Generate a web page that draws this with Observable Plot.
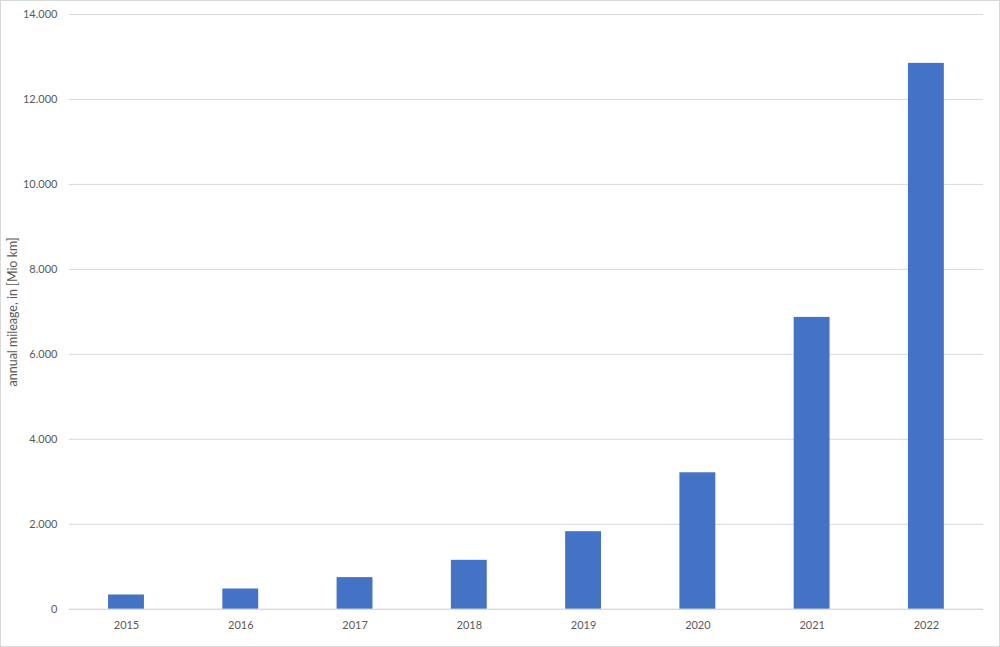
<!DOCTYPE html>
<html>
<head>
<meta charset="utf-8">
<script src="https://cdn.jsdelivr.net/npm/d3@7"></script>
<script src="https://cdn.jsdelivr.net/npm/@observablehq/plot@0.6"></script>
<style>
  html, body { margin: 0; padding: 0; background: #fff; }
  #wrap { width: 998px; height: 645px; border: 1px solid #d9d9d9; position: relative; overflow: hidden; }
  #wrap svg { position: absolute; left: -1px; top: -1px; }
  #wrap svg g[aria-label="y-axis label"] text { font-size: 12.5px; }
</style>
</head>
<body>
<div id="wrap"></div>
<script>
const years = ["2015", "2016", "2017", "2018", "2019", "2020", "2021", "2022"];
const mileage = [336, 477, 745, 1152, 1826, 3213, 6870, 12849];
const yTicks = [0, 2000, 4000, 6000, 8000, 10000, 12000, 14000];
const yLabel = "annual mileage, in [Mio km]";

const data = years.map((y, i) => ({year: y, value: mileage[i]}));
const de = d3.formatLocale({decimal: ",", thousands: ".", grouping: [3], currency: ["", " €"]});
const fmt = de.format(",");

const chart = Plot.plot({
  width: 1000,
  height: 647,
  marginLeft: 69,
  marginRight: 15,
  marginTop: 14,
  marginBottom: 37,
  style: {fontFamily: "Lato, 'Open Sans', sans-serif", fontSize: "11px", color: "#595959", background: "transparent"},
  x: {domain: years, paddingInner: 0.686, paddingOuter: 0.343, align: 0.5, round: false},
  y: {domain: [0, 14000]},
  marks: [
    Plot.gridY(yTicks, {stroke: "#d9d9d9", strokeOpacity: 1, strokeWidth: 1}),
    Plot.barY(data, {x: "year", y: "value", fill: "#4472C4"}),
    Plot.axisX({tickSize: 0, tickPadding: 12, label: null, fontSize: 11}),
    Plot.axisY(yTicks, {tickSize: 0, tickPadding: 12, tickFormat: fmt, label: yLabel, labelAnchor: "center", labelArrow: "none", labelOffset: 61, fontSize: 11}),
    Plot.ruleY([0], {stroke: "#d9d9d9"})
  ]
});
document.getElementById("wrap").appendChild(chart);
</script>
</body>
</html>
